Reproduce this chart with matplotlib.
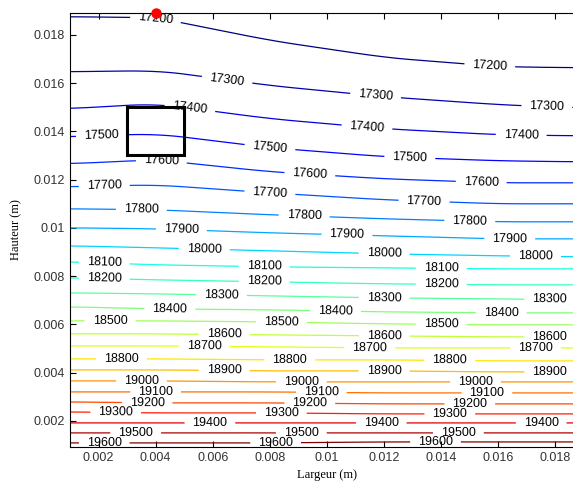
import numpy as np
import matplotlib
matplotlib.use("Agg")
import matplotlib.pyplot as plt
from matplotlib.patches import Rectangle
from matplotlib.ticker import FuncFormatter

# contour levels drawn in the figure
levels = list(range(17200, 19700, 100))

# x positions (m) where the height of each level was read
col_x = [0.001, 0.004, 0.008, 0.012, 0.016, 0.0186]

# height (mm) of each contour level at the columns above
level_y_mm = [
    [18.746, 18.705, 17.751, 17.047, 16.674, 16.632],  # 17200
    [16.466, 16.508, 15.886, 15.430, 15.099, 14.974],  # 17300
    [14.933, 15.140, 14.518, 14.104, 13.855, 13.814],  # 17400
    [13.772, 13.896, 13.316, 12.943, 12.777, 12.736],  # 17500
    [12.653, 12.819, 12.321, 12.031, 11.865, 11.865],  # 17600
    [11.700, 11.783, 11.451, 11.161, 10.995, 10.995],  # 17700
    [10.788, 10.746, 10.539, 10.373, 10.249, 10.249],  # 17800
    [10.000, 9.959, 9.793, 9.669, 9.544, 9.544],       # 17900
    [9.254, 9.171, 9.047, 8.922, 8.839, 8.798],        # 18000
    [8.591, 8.467, 8.384, 8.342, 8.301, 8.301],        # 18100
    [7.928, 7.845, 7.762, 7.679, 7.637, 7.637],        # 18200
    [7.306, 7.264, 7.181, 7.098, 7.057, 7.016],        # 18300
    [6.726, 6.643, 6.601, 6.518, 6.477, 6.477],        # 18400
    [6.146, 6.146, 6.104, 6.021, 5.980, 5.980],        # 18500
    [5.607, 5.607, 5.565, 5.524, 5.482, 5.482],        # 18600
    [5.109, 5.109, 5.068, 5.026, 5.026, 5.026],        # 18700
    [4.570, 4.570, 4.529, 4.529, 4.487, 4.487],        # 18800
    [4.114, 4.114, 4.073, 4.073, 4.031, 4.031],        # 18900
    [3.658, 3.658, 3.617, 3.617, 3.617, 3.617],        # 19000
    [3.202, 3.202, 3.202, 3.161, 3.161, 3.161],        # 19100
    [2.788, 2.747, 2.747, 2.706, 2.706, 2.706],        # 19200
    [2.374, 2.332, 2.332, 2.291, 2.291, 2.291],        # 19300
    [1.918, 1.918, 1.918, 1.918, 1.918, 1.918],        # 19400
    [1.504, 1.504, 1.504, 1.504, 1.504, 1.504],        # 19500
    [1.089, 1.089, 1.089, 1.130, 1.130, 1.130],        # 19600
]

# x (mm) of the inline labels on each level
label_x_mm = [
    [4.0, 15.7],
    [6.5, 11.7, 17.7],
    [5.2, 11.4, 16.8],
    [2.1, 8.0, 12.9],
    [4.2, 9.4, 15.4],
    [2.2, 8.0, 13.4],
    [3.5, 9.2, 15.0],
    [4.9, 10.7, 16.4],
    [5.7, 12.0, 17.3],
    [2.2, 7.8, 14.0],
    [2.2, 7.8, 14.0],
    [6.3, 12.0, 17.8],
    [4.5, 10.3, 16.1],
    [2.4, 8.4, 14.0],
    [6.4, 12.0, 17.8],
    [5.7, 11.5, 17.3],
    [2.8, 8.7, 14.3],
    [6.4, 12.0, 17.8],
    [3.5, 9.1, 15.2],
    [4.0, 9.8, 15.6],
    [3.7, 9.4, 15.0],
    [2.6, 8.4, 14.3],
    [5.9, 11.9, 17.5],
    [3.3, 9.1, 14.6],
    [2.2, 8.2, 13.8],
]

# probe region and marked point
box_x = (0.003, 0.005)
box_y = (0.013, 0.015)
point = (0.004, 0.0189)

lev = np.array(levels, dtype=float)
ylev = np.array(level_y_mm) / 1000.0

# build the field: between read levels the value varies linearly in y
xs = np.linspace(0.0, 0.020, 401)
ys = np.linspace(0.0, 0.021, 841)
Z = np.zeros((len(ys), len(xs)))
for j, x in enumerate(xs):
    yl = np.array([np.interp(x, col_x, row) for row in ylev])
    yy = np.concatenate(([yl[-1] - 0.0004], yl[::-1], [yl[0] + 0.0025]))
    zz = np.concatenate(([lev[-1] + 100], lev[::-1], [lev[0] - 100]))
    Z[:, j] = np.interp(ys, yy, zz)

# soften the kinks between read columns
k = 41
pad = np.pad(Z, ((0, 0), (k // 2, k // 2)), mode="edge")
Z = np.array([np.convolve(r, np.ones(k) / k, mode="valid") for r in pad])

fig = plt.figure(figsize=(5.73, 4.84), dpi=100)
ax = fig.add_axes([70 / 573, 37 / 484, 514 / 573, 434 / 484])

cs = ax.contour(xs, ys, Z, levels=levels, cmap="jet", linewidths=0.9)

manual = []
for row, lx in zip(ylev, label_x_mm):
    for x in lx:
        x = x / 1000.0
        manual.append((x, np.interp(x, col_x, row)))
lbls = ax.clabel(cs, fmt="%d", manual=manual, inline=True, inline_spacing=3,
                 fontsize=9, colors="black")
for t in lbls:
    t.set_family("Liberation Sans")

ax.add_patch(Rectangle((box_x[0], box_y[0]), box_x[1] - box_x[0],
                       box_y[1] - box_y[0], fill=False, edgecolor="black",
                       linewidth=2.2, zorder=5))
ax.plot([point[0]], [point[1]], "o", color="red", markersize=6.5,
        clip_on=False, zorder=6)

ax.set_xlim(0.001, 0.019)
ax.set_ylim(0.00092, 0.0189)
ax.set_xticks(np.arange(0.002, 0.0181, 0.002))
ax.set_yticks(np.arange(0.002, 0.0181, 0.002))
fmt = FuncFormatter(lambda v, p: "%g" % round(v, 4))
ax.xaxis.set_major_formatter(fmt)
ax.yaxis.set_major_formatter(fmt)
ax.tick_params(direction="in", top=True, right=True, length=4, width=0.8,
               labelsize=9, labelcolor="#333333")
for t in ax.get_xticklabels() + ax.get_yticklabels():
    t.set_family("Liberation Sans")

ax.set_xlabel("Largeur (m)", family="Liberation Serif", fontsize=9, labelpad=4)
ax.set_ylabel("Hauteur (m)", family="Liberation Serif", fontsize=9, labelpad=8)

fig.savefig("out.png", dpi=100)
